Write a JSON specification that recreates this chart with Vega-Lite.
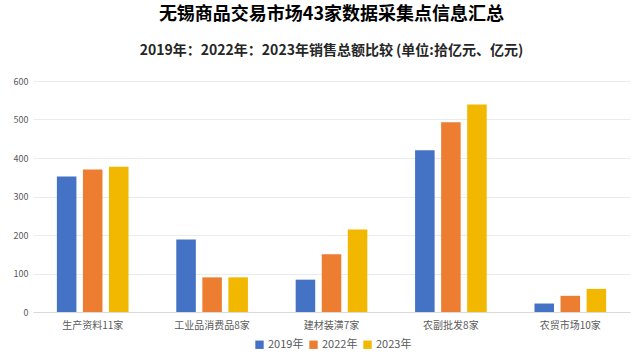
{
  "$schema": "https://vega.github.io/schema/vega-lite/v6.json",
  "autosize": {"type": "pad"},
  "width": 597,
  "height": 231,
  "padding": {"left": 13, "right": 8, "top": 6, "bottom": 3},
  "background": "white",
  "title": {
    "text": "无锡商品交易市场43家数据采集点信息汇总",
    "subtitle": "2019年：2022年：2023年销售总额比较 (单位:拾亿元、亿元)",
    "anchor": "middle",
    "font": "Noto Sans CJK SC",
    "fontSize": 18,
    "fontWeight": "bold",
    "color": "#000000",
    "subtitleFont": "Noto Sans CJK SC",
    "subtitleFontSize": 14,
    "subtitleFontWeight": "bold",
    "subtitleColor": "#262626",
    "subtitlePadding": 20,
    "offset": 19
  },
  "data": {
    "values": [
      {"category": "生产资料11家", "year": "2019年", "value": 352},
      {"category": "生产资料11家", "year": "2022年", "value": 370},
      {"category": "生产资料11家", "year": "2023年", "value": 377},
      {"category": "工业品消费品8家", "year": "2019年", "value": 188},
      {"category": "工业品消费品8家", "year": "2022年", "value": 90},
      {"category": "工业品消费品8家", "year": "2023年", "value": 90},
      {"category": "建材装潢7家", "year": "2019年", "value": 84},
      {"category": "建材装潢7家", "year": "2022年", "value": 150},
      {"category": "建材装潢7家", "year": "2023年", "value": 214},
      {"category": "农副批发8家", "year": "2019年", "value": 420},
      {"category": "农副批发8家", "year": "2022年", "value": 493},
      {"category": "农副批发8家", "year": "2023年", "value": 539},
      {"category": "农贸市场10家", "year": "2019年", "value": 22},
      {"category": "农贸市场10家", "year": "2022年", "value": 42},
      {"category": "农贸市场10家", "year": "2023年", "value": 60}
    ]
  },
  "mark": {"type": "bar"},
  "encoding": {
    "x": {
      "field": "category",
      "type": "nominal",
      "sort": null,
      "scale": {"paddingInner": 0.4, "paddingOuter": 0.2},
      "axis": {
        "title": null,
        "labelAngle": 0,
        "labelFont": "Noto Sans CJK SC",
        "labelFontSize": 10,
        "labelColor": "#595959",
        "domainColor": "#D9D9D9",
        "ticks": false,
        "labelPadding": 8
      }
    },
    "xOffset": {
      "field": "year",
      "type": "nominal",
      "scale": {"paddingInner": 0.25, "paddingOuter": 0}
    },
    "y": {
      "field": "value",
      "type": "quantitative",
      "scale": {"domain": [0, 600]},
      "axis": {
        "title": null,
        "values": [0, 100, 200, 300, 400, 500, 600],
        "labelFont": "Noto Sans CJK SC",
        "labelFontSize": 9,
        "labelColor": "#595959",
        "domain": false,
        "ticks": false,
        "gridColor": "#EBEBEB",
        "labelPadding": 5
      }
    },
    "color": {
      "field": "year",
      "type": "nominal",
      "scale": {"range": ["#4472C4", "#ED7D31", "#F2B800"]},
      "legend": {
        "orient": "none",
        "legendX": 221,
        "legendY": 258,
        "direction": "horizontal",
        "title": null,
        "symbolType": "square",
        "symbolSize": 70,
        "labelFont": "Noto Sans CJK SC",
        "labelFontSize": 11,
        "labelColor": "#595959",
        "columnPadding": 4,
        "symbolOffset": 0,
        "labelOffset": 3,
        "padding": 0
      }
    }
  },
  "config": {"view": {"stroke": null}}
}
